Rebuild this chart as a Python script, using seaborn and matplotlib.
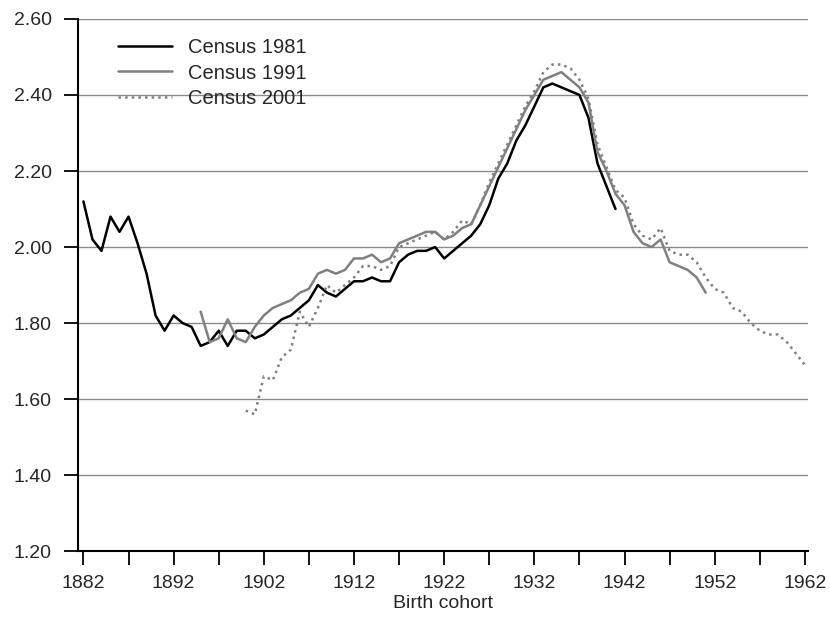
import numpy as np
import pandas as pd
import matplotlib
matplotlib.use("Agg")
import matplotlib.pyplot as plt
import seaborn as sns

# census series (value per birth cohort)
years_1981 = list(range(1882, 1942))
census_1981 = [2.12, 2.02, 1.99, 2.08, 2.04, 2.08, 2.01, 1.93, 1.82, 1.78,
               1.82, 1.80, 1.79, 1.74, 1.75, 1.78, 1.74, 1.78, 1.78, 1.76,
               1.77, 1.79, 1.81, 1.82, 1.84, 1.86, 1.90, 1.88, 1.87, 1.89,
               1.91, 1.91, 1.92, 1.91, 1.91, 1.96, 1.98, 1.99, 1.99, 2.00,
               1.97, 1.99, 2.01, 2.03, 2.06, 2.11, 2.18, 2.22, 2.28, 2.32,
               2.37, 2.42, 2.43, 2.42, 2.41, 2.40, 2.34, 2.22, 2.16, 2.10]

years_1991 = list(range(1895, 1952))
census_1991 = [1.83, 1.75, 1.76, 1.81, 1.76, 1.75, 1.79, 1.82, 1.84, 1.85,
               1.86, 1.88, 1.89, 1.93, 1.94, 1.93, 1.94, 1.97, 1.97, 1.98,
               1.96, 1.97, 2.01, 2.02, 2.03, 2.04, 2.04, 2.02, 2.03, 2.05,
               2.06, 2.11, 2.16, 2.21, 2.26, 2.31, 2.36, 2.40, 2.44, 2.45,
               2.46, 2.44, 2.42, 2.38, 2.25, 2.20, 2.14, 2.11, 2.04, 2.01,
               2.00, 2.02, 1.96, 1.95, 1.94, 1.92, 1.88]

years_2001 = list(range(1900, 1963))
census_2001 = [1.57, 1.56, 1.66, 1.65, 1.71, 1.73, 1.83, 1.79, 1.84, 1.90,
               1.88, 1.90, 1.92, 1.95, 1.95, 1.94, 1.95, 2.00, 2.01, 2.02,
               2.03, 2.04, 2.02, 2.04, 2.07, 2.06, 2.11, 2.17, 2.22, 2.27,
               2.32, 2.37, 2.41, 2.46, 2.48, 2.48, 2.47, 2.44, 2.39, 2.27,
               2.21, 2.15, 2.13, 2.06, 2.03, 2.02, 2.05, 1.99, 1.98, 1.98,
               1.96, 1.92, 1.89, 1.88, 1.84, 1.83, 1.80, 1.78, 1.77, 1.77,
               1.75, 1.72, 1.69]

x_ticks = list(range(1882, 1963, 10))
y_ticks = [1.20, 1.40, 1.60, 1.80, 2.00, 2.20, 2.40, 2.60]

sns.set_style("white")
plt.rcParams['font.family'] = ['Liberation Sans', 'DejaVu Sans']

fig = plt.figure(figsize=(8.3, 6.3), dpi=100)
ax = fig.add_axes([0.094, 0.125, 0.879, 0.845])

series = [
    ("Census 1981", years_1981, census_1981, "#000000", "-"),
    ("Census 1991", years_1991, census_1991, "#808080", "-"),
    ("Census 2001", years_2001, census_2001, "#808080", ":"),
]
for label, yrs, vals, col, ls in series:
    df = pd.DataFrame({"year": yrs, "value": vals})
    sns.lineplot(data=df, x="year", y="value", ax=ax, color=col,
                 linestyle=ls, linewidth=1.8, label=label)

ax.set_xlim(1881.4, 1962.3)
ax.set_ylim(1.2, 2.6)
ax.set_xticks(x_ticks)
ax.set_xticks(list(range(1887, 1963, 10)), minor=True)
ax.set_yticks(y_ticks)
ax.set_yticklabels([f"{v:.2f}" for v in y_ticks])

for v in y_ticks[1:]:
    ax.axhline(v, color="#8a8a8a", linewidth=1.0, zorder=0)

ax.tick_params(axis="both", which="both", direction="out", length=10,
               width=1.3, color="black", labelsize=14, bottom=True, left=True)
ax.tick_params(axis="x", pad=7)
ax.tick_params(axis="y", pad=9)
for side in ["top", "right"]:
    ax.spines[side].set_visible(False)
for side in ["left", "bottom"]:
    ax.spines[side].set_color("black")
    ax.spines[side].set_linewidth(1.5)

ax.set_xlabel("Birth cohort", fontsize=14, labelpad=2)
ax.set_ylabel("")

leg = ax.legend(loc="upper left", bbox_to_anchor=(0.03, 0.998), frameon=False,
                fontsize=14.5, handlelength=2.7, labelspacing=0.32, handletextpad=0.75)

plt.savefig("out.png", dpi=100)
